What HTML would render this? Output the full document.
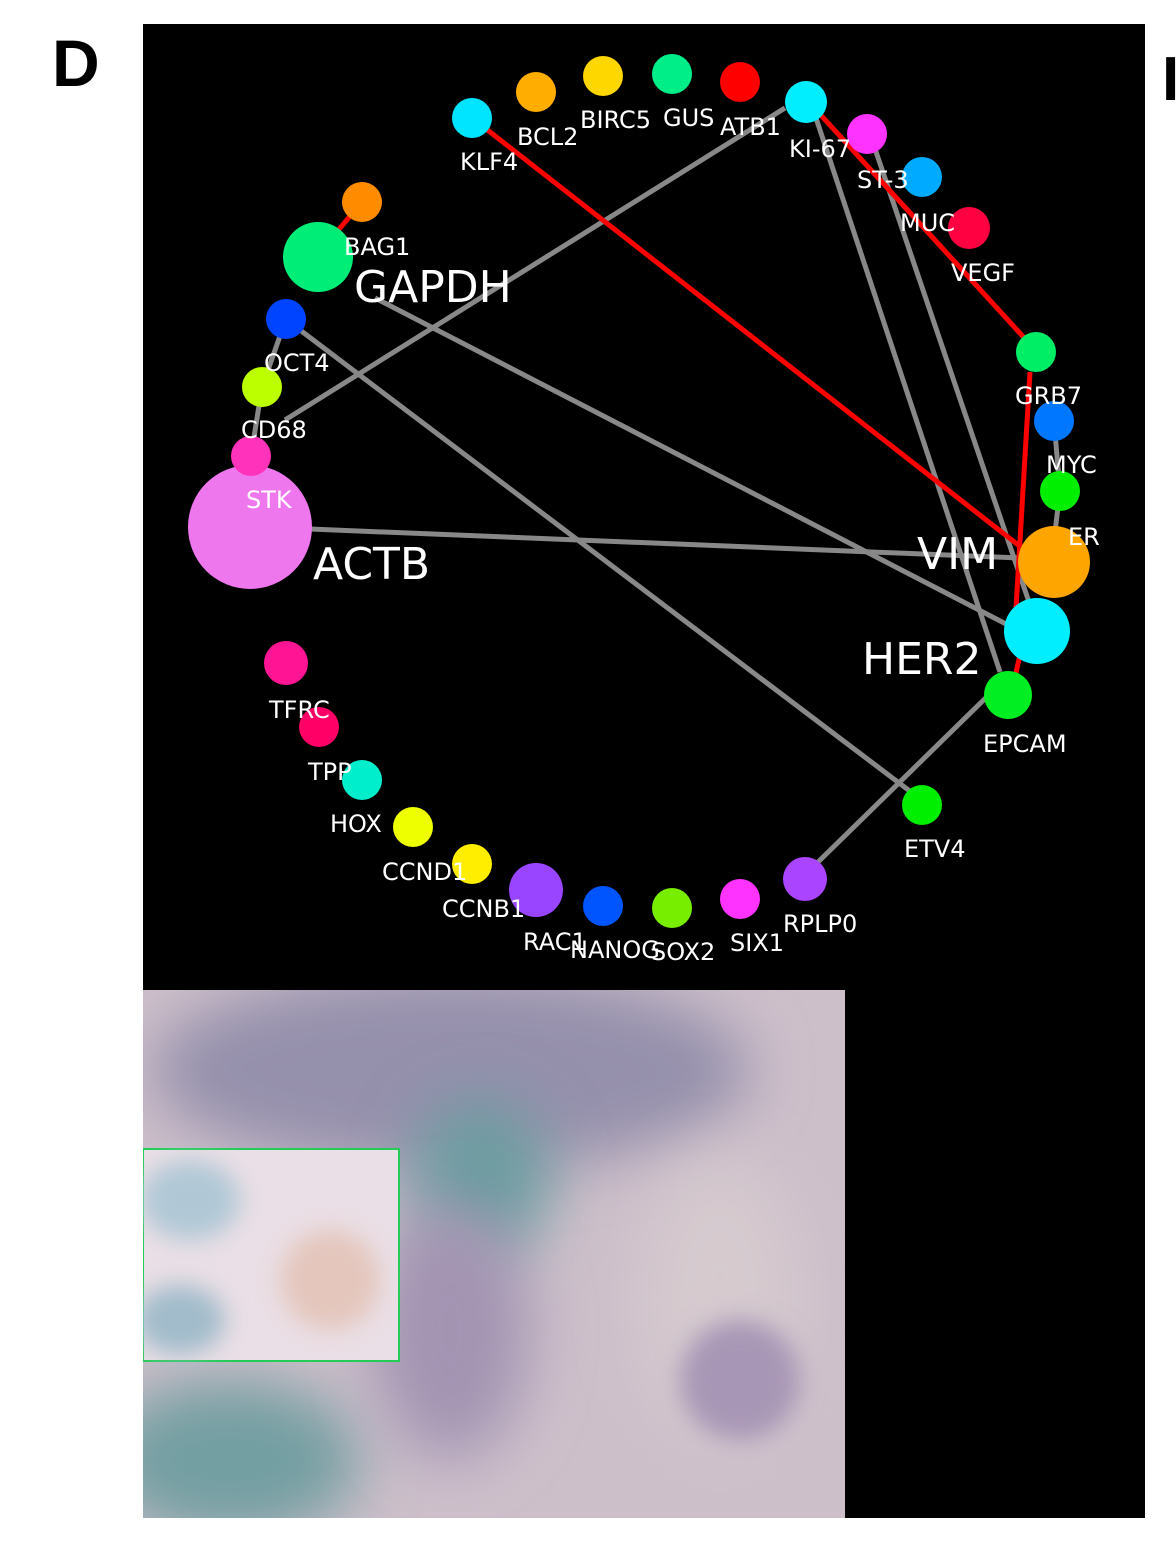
<!DOCTYPE html>
<html><head><meta charset="utf-8"><style>
body{margin:0;background:#fff;width:1176px;height:1537px;overflow:hidden;font-family:"Liberation Sans",sans-serif}
</style></head><body>
<svg width="1176" height="1537" xmlns="http://www.w3.org/2000/svg" font-family="'DejaVu Sans','Liberation Sans',sans-serif">
<defs>
<filter id="bl" x="-50%" y="-50%" width="200%" height="200%"><feGaussianBlur stdDeviation="30"/></filter>
<filter id="bl2" x="-50%" y="-50%" width="200%" height="200%"><feGaussianBlur stdDeviation="12"/></filter>
<clipPath id="tc"><rect x="143" y="990" width="702" height="528"/></clipPath>
</defs>
<rect width="1176" height="1537" fill="#fff"/>
<text x="52" y="86" font-family="'Liberation Sans',sans-serif" font-weight="bold" font-size="66" fill="#000">D</text>
<text x="1162" y="100" font-family="'Liberation Sans',sans-serif" font-weight="bold" font-size="62" fill="#000">I</text>
<rect x="143" y="24" width="1002" height="1494" fill="#000"/>
<!-- tissue -->
<g clip-path="url(#tc)">
<rect x="143" y="990" width="702" height="528" fill="#cdbfca"/>
<ellipse cx="450" cy="1070" rx="300" ry="100" fill="#9590ac" filter="url(#bl)"/>
<ellipse cx="480" cy="1180" rx="70" ry="80" fill="#6a9ca0" filter="url(#bl)"/>
<ellipse cx="230" cy="1460" rx="130" ry="80" fill="#739fa2" filter="url(#bl)"/>
<ellipse cx="450" cy="1330" rx="80" ry="130" fill="#a394b2" filter="url(#bl)"/>
<ellipse cx="720" cy="1300" rx="80" ry="140" fill="#d6cacf" filter="url(#bl)"/>
<ellipse cx="740" cy="1380" rx="60" ry="60" fill="#a896b6" filter="url(#bl2)"/>
<rect x="143" y="1149" width="256" height="212" fill="#eadfe6" stroke="#22cc55" stroke-width="2"/>
<ellipse cx="190" cy="1200" rx="50" ry="40" fill="#b0c8d6" filter="url(#bl2)"/>
<ellipse cx="180" cy="1320" rx="45" ry="35" fill="#a2bccb" filter="url(#bl2)"/>
<ellipse cx="330" cy="1280" rx="50" ry="50" fill="#e4c6bc" filter="url(#bl2)"/>
</g>
<!-- edges -->
<g stroke="#888" stroke-width="5" fill="none">
<line x1="785" y1="108" x2="285" y2="420"/>
<line x1="815" y1="115" x2="1000" y2="672"/>
<line x1="872" y1="140" x2="1030" y2="605"/>
<line x1="300" y1="330" x2="915" y2="795"/>
<line x1="375" y1="298" x2="1008" y2="625"/>
<line x1="310" y1="529" x2="1020" y2="558"/>
<line x1="815" y1="865" x2="1002" y2="682"/>
<line x1="262" y1="387" x2="251" y2="456"/>
<line x1="286" y1="319" x2="262" y2="387"/>
<line x1="1060" y1="491" x2="1054" y2="540"/>
<line x1="1054" y1="421" x2="1060" y2="491"/>
</g>
<g stroke="#ff0000" stroke-width="5" fill="none">
<line x1="485" y1="128" x2="1022" y2="548"/>
<line x1="818" y1="112" x2="1028" y2="342"/>
<line x1="1030" y1="372" x2="1015" y2="625"/>
<line x1="362" y1="202" x2="330" y2="240"/>
<line x1="1020" y1="655" x2="1012" y2="690"/>
</g>
<!-- nodes -->
<g>
<circle cx="472" cy="118" r="20" fill="#00e5ff"/>
<circle cx="536" cy="92" r="20" fill="#ffae00"/>
<circle cx="603" cy="76" r="20" fill="#ffd700"/>
<circle cx="672" cy="74" r="20" fill="#00ee88"/>
<circle cx="740" cy="82" r="20" fill="#ff0000"/>
<circle cx="806" cy="102" r="21" fill="#00eeff"/>
<circle cx="867" cy="134" r="20" fill="#ff33ff"/>
<circle cx="922" cy="177" r="20" fill="#00aaff"/>
<circle cx="969" cy="228" r="21" fill="#ff0040"/>
<circle cx="1036" cy="352" r="20" fill="#00ee66"/>
<circle cx="1054" cy="421" r="20" fill="#0077ff"/>
<circle cx="1060" cy="491" r="20" fill="#00ee00"/>
<circle cx="1054" cy="562" r="36" fill="#ffa500"/>
<circle cx="1037" cy="631" r="33" fill="#00eeff"/>
<circle cx="1008" cy="695" r="24" fill="#00ee22"/>
<circle cx="922" cy="805" r="20" fill="#00ee00"/>
<circle cx="805" cy="879" r="22" fill="#aa44ff"/>
<circle cx="740" cy="899" r="20" fill="#ff33ff"/>
<circle cx="672" cy="908" r="20" fill="#77ee00"/>
<circle cx="603" cy="906" r="20" fill="#0055ff"/>
<circle cx="536" cy="890" r="27" fill="#9944ff"/>
<circle cx="472" cy="864" r="20" fill="#ffee00"/>
<circle cx="413" cy="827" r="20" fill="#eeff00"/>
<circle cx="362" cy="780" r="20" fill="#00eecc"/>
<circle cx="319" cy="727" r="20" fill="#ff0066"/>
<circle cx="286" cy="663" r="22" fill="#ff1493"/>
<circle cx="250" cy="527" r="62" fill="#ee77ee"/>
<circle cx="251" cy="456" r="20" fill="#ff33bb"/>
<circle cx="262" cy="387" r="20" fill="#bbff00"/>
<circle cx="286" cy="319" r="20" fill="#0044ff"/>
<circle cx="318" cy="257" r="35" fill="#00ee77"/>
<circle cx="362" cy="202" r="20" fill="#ff8c00"/>
</g>
<!-- labels -->
<g fill="#fff" font-size="24">
<text x="460" y="170">KLF4</text>
<text x="517" y="145">BCL2</text>
<text x="580" y="128">BIRC5</text>
<text x="663" y="126">GUS</text>
<text x="720" y="135">ATB1</text>
<text x="789" y="157">KI-67</text>
<text x="857" y="188">ST-3</text>
<text x="900" y="231">MUC</text>
<text x="951" y="281">VEGF</text>
<text x="1015" y="404">GRB7</text>
<text x="1046" y="473">MYC</text>
<text x="1068" y="545">ER</text>
<text x="983" y="752">EPCAM</text>
<text x="904" y="857">ETV4</text>
<text x="783" y="932">RPLP0</text>
<text x="730" y="951">SIX1</text>
<text x="651" y="960">SOX2</text>
<text x="570" y="958">NANOG</text>
<text x="523" y="950">RAC1</text>
<text x="442" y="917">CCNB1</text>
<text x="382" y="880">CCND1</text>
<text x="330" y="832">HOX</text>
<text x="308" y="780">TPP</text>
<text x="269" y="718">TFRC</text>
<text x="246" y="508">STK</text>
<text x="241" y="438">CD68</text>
<text x="264" y="371">OCT4</text>
<text x="344" y="255">BAG1</text>
</g>
<g fill="#fff" font-size="44">
<text x="354" y="302">GAPDH</text>
<text x="313" y="579">ACTB</text>
<text x="917" y="569">VIM</text>
<text x="862" y="674">HER2</text>
</g>
</svg>
</body></html>
